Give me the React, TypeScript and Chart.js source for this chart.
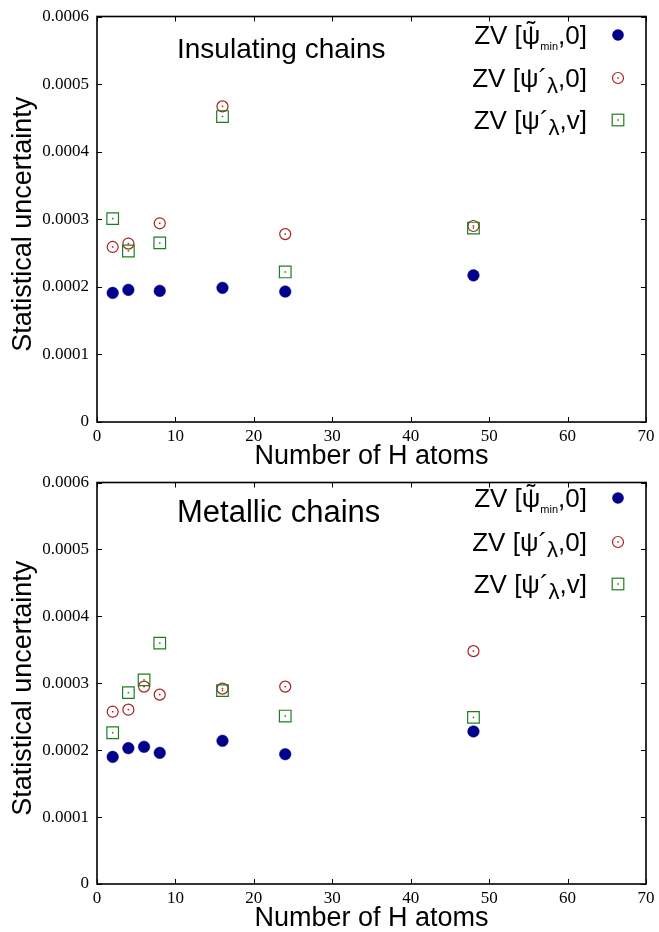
import React, { useEffect, useRef } from "react";
import { Chart, registerables } from "chart.js";

Chart.register(...registerables);

// ---------- data ----------
const xTicks = [0, 10, 20, 30, 40, 50, 60, 70];
const yTicks = [0, 0.0001, 0.0002, 0.0003, 0.0004, 0.0005, 0.0006];
const yTickLabels = ["0", "0.0001", "0.0002", "0.0003", "0.0004", "0.0005", "0.0006"];

const insulatingN = [2, 4, 8, 16, 24, 48];
const insulatingPsiMin = [1.91e-4, 1.955e-4, 1.94e-4, 1.985e-4, 1.93e-4, 2.17e-4];
const insulatingPsiLambda0 = [2.59e-4, 2.64e-4, 2.94e-4, 4.67e-4, 2.78e-4, 2.9e-4];
const insulatingPsiLambdaV = [3.01e-4, 2.53e-4, 2.65e-4, 4.52e-4, 2.22e-4, 2.87e-4];

const metallicN = [2, 4, 6, 8, 16, 24, 48];
const metallicPsiMin = [1.9e-4, 2.03e-4, 2.05e-4, 1.96e-4, 2.14e-4, 1.94e-4, 2.28e-4];
const metallicPsiLambda0 = [2.575e-4, 2.605e-4, 2.95e-4, 2.83e-4, 2.92e-4, 2.95e-4, 3.48e-4];
const metallicPsiLambdaV = [2.26e-4, 2.86e-4, 3.05e-4, 3.6e-4, 2.89e-4, 2.51e-4, 2.49e-4];

const xTitle = "Number of H atoms";
const yTitle = "Statistical uncertainty";
const titles = ["Insulating chains", "Metallic chains"];

// ---------- styles ----------
const BLUE = "#00008c";
const RED = "#a82020";
const GREEN = "#1f7d1f";
const SANS = '"Liberation Sans", Arial, sans-serif';
const SERIF = '"Liberation Serif", "Times New Roman", serif';

type Piece = { t: string; size: number; dy?: number; tilde?: boolean };

const LEG = 26;
const legendRows: Piece[][] = [
  [
    { t: "ZV [", size: LEG },
    { t: "\u03C8", size: LEG, tilde: true },
    { t: "min", size: 11, dy: 6 },
    { t: ",0]", size: LEG },
  ],
  [
    { t: "ZV [\u03C8", size: LEG },
    { t: "\u00B4", size: LEG },
    { t: "\u03BB", size: 22, dy: 6 },
    { t: ",0]", size: LEG },
  ],
  [
    { t: "ZV [\u03C8", size: LEG },
    { t: "\u00B4", size: LEG },
    { t: "\u03BB", size: 22, dy: 6 },
    { t: ",v]", size: LEG },
  ],
];

function drawRich(ctx: CanvasRenderingContext2D, pieces: Piece[], rightX: number, baseline: number) {
  const widths = pieces.map((p) => {
    ctx.font = `${p.size}px ${SANS}`;
    return ctx.measureText(p.t).width;
  });
  const total = widths.reduce((a, b) => a + b, 0);
  let x = rightX - total;
  ctx.textAlign = "left";
  ctx.textBaseline = "alphabetic";
  pieces.forEach((p, i) => {
    ctx.font = `${p.size}px ${SANS}`;
    ctx.fillText(p.t, x, baseline + (p.dy || 0));
    if (p.tilde) {
      ctx.textAlign = "center";
      ctx.fillText("\u02DC", x + widths[i] / 2, baseline - 5);
      ctx.textAlign = "left";
    }
    x += widths[i];
  });
}

function drawMarker(ctx: CanvasRenderingContext2D, kind: number, x: number, y: number) {
  ctx.save();
  if (kind === 0) {
    ctx.fillStyle = BLUE;
    ctx.beginPath();
    ctx.arc(x, y, 5.8, 0, Math.PI * 2);
    ctx.fill();
  } else if (kind === 1) {
    ctx.strokeStyle = RED;
    ctx.lineWidth = 1.2;
    ctx.beginPath();
    ctx.arc(x, y, 5.5, 0, Math.PI * 2);
    ctx.stroke();
    ctx.fillStyle = RED;
    ctx.fillRect(x - 0.75, y - 0.75, 1.5, 1.5);
  } else {
    ctx.strokeStyle = GREEN;
    ctx.lineWidth = 1.2;
    ctx.strokeRect(x - 5.8, y - 5.8, 11.6, 11.6);
    ctx.fillStyle = GREEN;
    ctx.fillRect(x - 0.75, y - 0.75, 1.5, 1.5);
  }
  ctx.restore();
}

type PanelCfg = {
  title: string;
  titleSize: number;
  titleBaseline: number;
  markerYs: number[];
  yTitleOffset: number;
};

function makeDecor(cfg: PanelCfg) {
  return {
    id: "decor",
    afterDatasetsDraw(chart: any) {
      const ctx: CanvasRenderingContext2D = chart.ctx;
      ctx.save();
      [1, 2].forEach((di) => {
        const meta = chart.getDatasetMeta(di);
        ctx.fillStyle = di === 1 ? RED : GREEN;
        meta.data.forEach((el: any) => {
          ctx.fillRect(el.x - 0.75, el.y - 0.75, 1.5, 1.5);
        });
      });
      ctx.restore();
    },
    afterDraw(chart: any) {
      const ctx: CanvasRenderingContext2D = chart.ctx;
      const { left, right, top, bottom } = chart.chartArea;
      const xs = chart.scales.x;
      const ys = chart.scales.y;
      ctx.save();
      ctx.strokeStyle = "#000";
      ctx.lineWidth = 1;
      ctx.beginPath();
      xTicks.forEach((v) => {
        const px = Math.round(xs.getPixelForValue(v)) + 0.5;
        ctx.moveTo(px, bottom);
        ctx.lineTo(px, bottom - 5);
        ctx.moveTo(px, top);
        ctx.lineTo(px, top + 5);
      });
      yTicks.forEach((v) => {
        const py = Math.round(ys.getPixelForValue(v)) + 0.5;
        ctx.moveTo(left, py);
        ctx.lineTo(left + 5, py);
        ctx.moveTo(right, py);
        ctx.lineTo(right - 5, py);
      });
      ctx.stroke();
      ctx.lineWidth = 1.6;
      ctx.strokeRect(left, top, right - left, bottom - top);

      ctx.fillStyle = "#000";
      // panel title
      ctx.font = `${cfg.titleSize}px ${SANS}`;
      ctx.textAlign = "left";
      ctx.textBaseline = "alphabetic";
      ctx.fillText(cfg.title, 177, cfg.titleBaseline);
      // axis titles
      ctx.font = `27px ${SANS}`;
      ctx.textAlign = "center";
      ctx.fillText(xTitle, (left + right) / 2, bottom + 42);
      ctx.save();
      ctx.translate(31, (top + bottom) / 2 + cfg.yTitleOffset);
      ctx.rotate(-Math.PI / 2);
      ctx.fillText(yTitle, 0, 0);
      ctx.restore();
      // legend
      legendRows.forEach((row, i) => {
        ctx.fillStyle = "#000";
        drawRich(ctx, row, 587, cfg.markerYs[i] + 9);
        drawMarker(ctx, i, 618, cfg.markerYs[i]);
      });
      ctx.restore();
    },
  };
}

function Panel(props: {
  n: number[];
  a: number[];
  b: number[];
  c: number[];
  padTop: number;
  xAxisH: number;
  cfg: PanelCfg;
}) {
  const ref = useRef<HTMLCanvasElement | null>(null);
  useEffect(() => {
    if (!ref.current) return;
    const toPts = (vals: number[]) => props.n.map((x, i) => ({ x, y: vals[i] }));
    const chart = new Chart(ref.current, {
      type: "scatter",
      data: {
        datasets: [
          {
            label: "psi min",
            data: toPts(props.a),
            pointStyle: "circle",
            pointRadius: 5.8,
            backgroundColor: BLUE,
            borderColor: BLUE,
            borderWidth: 0.5,
            order: 3,
          },
          {
            label: "psi lambda 0",
            data: toPts(props.b),
            pointStyle: "circle",
            pointRadius: 5.5,
            backgroundColor: "rgba(0,0,0,0)",
            borderColor: RED,
            borderWidth: 1.2,
            order: 2,
          },
          {
            label: "psi lambda v",
            data: toPts(props.c),
            pointStyle: "rect",
            pointRadius: 8.2,
            backgroundColor: "rgba(0,0,0,0)",
            borderColor: GREEN,
            borderWidth: 1.2,
            order: 1,
          },
        ],
      },
      options: {
        responsive: false,
        animation: false,
        devicePixelRatio: 1,
        layout: { padding: { left: 0, right: 13, top: props.padTop, bottom: 0 } },
        plugins: {
          legend: { display: false },
          tooltip: { enabled: false },
          title: { display: false },
        },
        scales: {
          x: {
            type: "linear",
            min: 0,
            max: 70,
            ticks: {
              stepSize: 10,
              autoSkip: false,
              maxRotation: 0,
              padding: 4,
              color: "#000",
              font: { family: SERIF, size: 17, lineHeight: 1.2 },
            },
            grid: { display: false, drawTicks: false },
            border: { display: false },
            afterFit: (s: any) => {
              s.height = props.xAxisH;
            },
          },
          y: {
            type: "linear",
            min: 0,
            max: 0.0006,
            ticks: {
              stepSize: 0.0001,
              autoSkip: false,
              padding: 8,
              color: "#000",
              font: { family: SERIF, size: 17, lineHeight: 1 },
              callback: (_v: any, i: number) => yTickLabels[i],
            },
            grid: { display: false, drawTicks: false },
            border: { display: false },
            afterFit: (s: any) => {
              s.width = 97;
            },
          },
        },
      },
      plugins: [makeDecor(props.cfg)],
    } as any);
    return () => chart.destroy();
  }, []);
  return <canvas ref={ref} width={659} height={466} style={{ display: "block", width: 659, height: 466 }} />;
}

export default function App() {
  useEffect(() => {
    document.body.style.margin = "0";
  }, []);
  return (
    <div style={{ width: 659, height: 932, background: "#fff" }}>
      <Panel
        n={insulatingN}
        a={insulatingPsiMin}
        b={insulatingPsiLambda0}
        c={insulatingPsiLambdaV}
        padTop={14}
        xAxisH={44}
        cfg={{
          title: titles[0],
          titleSize: 28,
          titleBaseline: 58,
          markerYs: [35, 78, 120],
          yTitleOffset: 5,
        }}
      />
      <Panel
        n={metallicN}
        a={metallicPsiMin}
        b={metallicPsiLambda0}
        c={metallicPsiLambdaV}
        padTop={11}
        xAxisH={48}
        cfg={{
          title: titles[1],
          titleSize: 31,
          titleBaseline: 56,
          markerYs: [32, 76, 118],
          yTitleOffset: 5,
        }}
      />
    </div>
  );
}
